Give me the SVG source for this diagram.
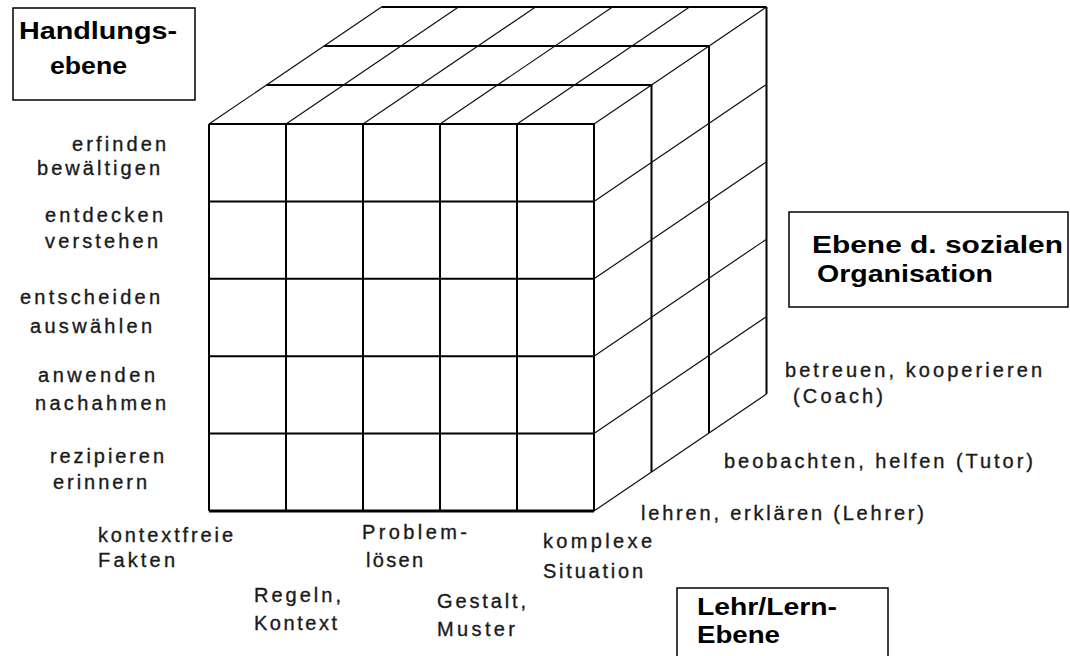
<svg xmlns="http://www.w3.org/2000/svg" width="1070" height="656" viewBox="0 0 1070 656">
<style>
.bg{fill:#fff}
.thick{stroke:#000;stroke-width:2;fill:none}
.thin{stroke:#111;stroke-width:1.2;fill:none}
.base{stroke:#000;stroke-width:3;fill:none}
.lbl{font-family:"Liberation Sans",Arial,sans-serif;font-size:20px;fill:#1a1a1a;stroke:#1a1a1a;stroke-width:0.35}
.ttl{font-family:"Liberation Sans",Arial,sans-serif;font-size:24px;font-weight:bold;fill:#000}
.box{fill:#fff;stroke:#000;stroke-width:1.5}
</style>
<rect class="bg" x="0" y="0" width="1070" height="656"/>
<g id="cube">
  <g id="top-face">
    <path class="thick" d="M266.5 85H651.5M324 46H709M381.5 7H766.5"/>
    <path class="thin" d="M209 124L381.5 7M286 124L458.5 7M363 124L535.5 7M440 124L612.5 7M517 124L689.5 7M594 124L766.5 7"/>
  </g>
  <g id="right-face">
    <path class="thick" d="M651.5 85V472M709 46V433M766.5 7V394"/>
    <path class="thin" d="M594 201.4L766.5 84.4M594 278.8L766.5 161.8M594 356.2L766.5 239.2M594 433.6L766.5 316.6M594 511L766.5 394"/>
  </g>
  <g id="front-face">
    <path class="thick" d="M209 124H594M209 201.4H594M209 278.8H594M209 356.2H594M209 433.6H594"/>
    <path class="thick" d="M209 124V511M286 124V511M363 124V511M440 124V511M517 124V511M594 124V511"/>
    <path class="base" d="M209 511H594"/>
  </g>
</g>
<g id="handlungsebene-labels">
  <text class="lbl" x="72" y="151" textLength="94" lengthAdjust="spacing">erfinden</text>
  <text class="lbl" x="37" y="175" textLength="123" lengthAdjust="spacing">bewältigen</text>
  <text class="lbl" x="45" y="222" textLength="118" lengthAdjust="spacing">entdecken</text>
  <text class="lbl" x="45" y="248" textLength="113" lengthAdjust="spacing">verstehen</text>
  <text class="lbl" x="20" y="304" textLength="140" lengthAdjust="spacing">entscheiden</text>
  <text class="lbl" x="30" y="333" textLength="122" lengthAdjust="spacing">auswählen</text>
  <text class="lbl" x="38" y="382" textLength="117" lengthAdjust="spacing">anwenden</text>
  <text class="lbl" x="35" y="410" textLength="131" lengthAdjust="spacing">nachahmen</text>
  <text class="lbl" x="50" y="463" textLength="114" lengthAdjust="spacing">rezipieren</text>
  <text class="lbl" x="53" y="489" textLength="94" lengthAdjust="spacing">erinnern</text>
</g>
<g id="lehr-lern-labels">
  <text class="lbl" x="98" y="542" textLength="135" lengthAdjust="spacing">kontextfreie</text>
  <text class="lbl" x="98" y="567" textLength="77" lengthAdjust="spacing">Fakten</text>
  <text class="lbl" x="254" y="602" textLength="87" lengthAdjust="spacing">Regeln,</text>
  <text class="lbl" x="254" y="630" textLength="83" lengthAdjust="spacing">Kontext</text>
  <text class="lbl" x="362" y="539" textLength="105" lengthAdjust="spacing">Problem-</text>
  <text class="lbl" x="366" y="567" textLength="57" lengthAdjust="spacing">lösen</text>
  <text class="lbl" x="437" y="608" textLength="89" lengthAdjust="spacing">Gestalt,</text>
  <text class="lbl" x="437" y="636" textLength="78" lengthAdjust="spacing">Muster</text>
  <text class="lbl" x="543" y="548" textLength="109" lengthAdjust="spacing">komplexe</text>
  <text class="lbl" x="543" y="578" textLength="100" lengthAdjust="spacing">Situation</text>
</g>
<g id="sozial-labels">
  <text class="lbl" x="785" y="377" textLength="257" lengthAdjust="spacing">betreuen, kooperieren</text>
  <text class="lbl" x="793" y="403" textLength="90" lengthAdjust="spacing">(Coach)</text>
  <text class="lbl" x="724" y="468" textLength="309" lengthAdjust="spacing">beobachten, helfen (Tutor)</text>
  <text class="lbl" x="641" y="520" textLength="283" lengthAdjust="spacing">lehren, erklären (Lehrer)</text>
</g>
<g id="box-handlungsebene">
  <rect class="box" x="13" y="8" width="182" height="92"/>
  <text class="ttl" x="19" y="39" textLength="158" lengthAdjust="spacingAndGlyphs">Handlungs-</text>
  <text class="ttl" x="50" y="74" textLength="77" lengthAdjust="spacingAndGlyphs">ebene</text>
</g>
<g id="box-sozial">
  <rect class="box" x="789" y="212" width="279" height="95"/>
  <text class="ttl" x="812" y="253" textLength="251" lengthAdjust="spacingAndGlyphs">Ebene d. sozialen</text>
  <text class="ttl" x="817" y="282" textLength="176" lengthAdjust="spacingAndGlyphs">Organisation</text>
</g>
<g id="box-lehr-lern">
  <rect class="box" x="677" y="588" width="211" height="80"/>
  <text class="ttl" x="697" y="615" textLength="140" lengthAdjust="spacingAndGlyphs">Lehr/Lern-</text>
  <text class="ttl" x="697" y="643" textLength="83" lengthAdjust="spacingAndGlyphs">Ebene</text>
</g>
</svg>
